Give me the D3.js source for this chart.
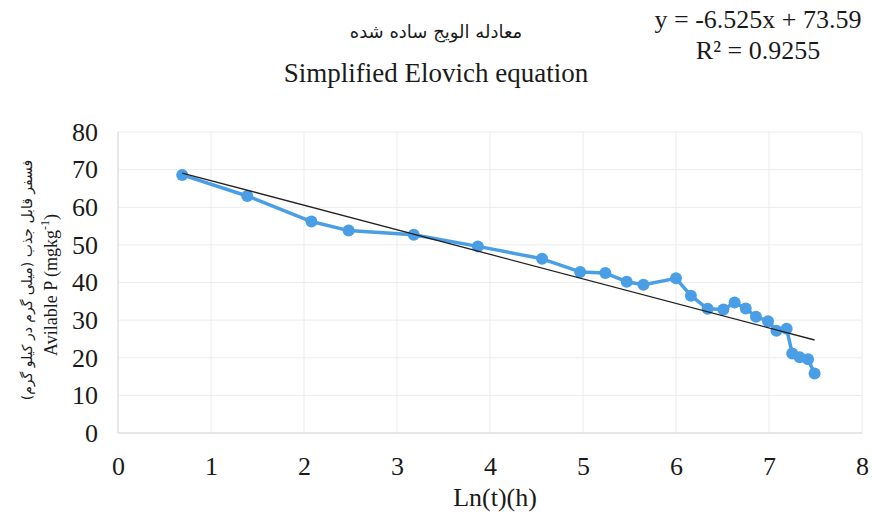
<!DOCTYPE html>
<html>
<head>
<meta charset="utf-8">
<script src="https://cdn.jsdelivr.net/npm/d3@7"></script>
<style>
  html, body { margin: 0; padding: 0; background: #fff; }
  svg { display: block; }
  .serif { font-family: "Liberation Serif", "Times New Roman", serif; fill: #1a1a1a; }
  .fa { font-family: "DejaVu Sans", "Noto Sans", sans-serif; fill: #1a1a1a; }
</style>
</head>
<body>
<svg id="chart" width="872" height="515"></svg>
<script>
// Ln(t) in hours and available phosphorus (mg/kg)
const lnTime = [0.69, 1.39, 2.08, 2.48, 3.18, 3.87, 4.56, 4.97, 5.24, 5.47, 5.65,
                6.00, 6.16, 6.34, 6.51, 6.63, 6.75, 6.86, 6.99, 7.08, 7.19, 7.25, 7.33, 7.42, 7.49];
const availP = [68.6, 63.0, 56.2, 53.8, 52.7, 49.6, 46.3, 42.8, 42.5, 40.2, 39.4,
                41.1, 36.5, 33.0, 32.8, 34.7, 33.1, 30.9, 29.7, 27.2, 27.7, 21.1, 20.1, 19.6, 15.8];

// Linear fit reported for the series
const fitSlope = -6.525;
const fitIntercept = 73.59;
const fitR2 = 0.9255;

const xTicks = [0, 1, 2, 3, 4, 5, 6, 7, 8];
const yTicks = [0, 10, 20, 30, 40, 50, 60, 70, 80];

const svg = d3.select("#chart");
const plot = { left: 118, right: 862, top: 132, bottom: 433 };

const x = d3.scaleLinear().domain([0, 8]).range([plot.left, plot.right]);
const y = d3.scaleLinear().domain([0, 80]).range([plot.bottom, plot.top]);

// Gridlines
svg.append("g").selectAll("line.h").data(yTicks).join("line")
  .attr("x1", plot.left).attr("x2", plot.right)
  .attr("y1", d => y(d)).attr("y2", d => y(d))
  .attr("stroke", "#ececec").attr("stroke-width", 1);
svg.append("g").selectAll("line.v").data(xTicks).join("line")
  .attr("x1", d => x(d)).attr("x2", d => x(d))
  .attr("y1", plot.top).attr("y2", plot.bottom)
  .attr("stroke", "#ececec").attr("stroke-width", 1);

// Axis baselines
svg.append("line").attr("x1", plot.left).attr("x2", plot.right)
  .attr("y1", plot.bottom).attr("y2", plot.bottom).attr("stroke", "#d9d9d9");
svg.append("line").attr("x1", plot.left).attr("x2", plot.left)
  .attr("y1", plot.top).attr("y2", plot.bottom).attr("stroke", "#d9d9d9");

// Axes (labels only, no tick marks)
const xAxis = svg.append("g").attr("transform", `translate(0,${plot.bottom})`)
  .call(d3.axisBottom(x).tickValues(xTicks).tickSize(0).tickPadding(24).tickFormat(d3.format("d")));
const yAxis = svg.append("g").attr("transform", `translate(${plot.left},0)`)
  .call(d3.axisLeft(y).tickValues(yTicks).tickSize(0).tickPadding(20).tickFormat(d3.format("d")));
[xAxis, yAxis].forEach(g => {
  g.select(".domain").remove();
  g.selectAll("text").attr("class", "serif").style("font-size", "26px").attr("fill", "#1a1a1a");
});

// Data series
const color = "#4a9ee6";
const line = d3.line().x((d, i) => x(lnTime[i])).y(d => y(d));
svg.append("path").datum(availP)
  .attr("d", line).attr("fill", "none")
  .attr("stroke", color).attr("stroke-width", 3.5).attr("stroke-linejoin", "round");
svg.append("g").selectAll("circle").data(availP).join("circle")
  .attr("cx", (d, i) => x(lnTime[i])).attr("cy", d => y(d))
  .attr("r", 6).attr("fill", color);

// Trend line over the data range
const xMin = d3.min(lnTime), xMax = d3.max(lnTime);
svg.append("line")
  .attr("x1", x(xMin)).attr("y1", y(fitSlope * xMin + fitIntercept))
  .attr("x2", x(xMax)).attr("y2", y(fitSlope * xMax + fitIntercept))
  .attr("stroke", "#222").attr("stroke-width", 1.3);

// Titles
svg.append("text").attr("class", "fa").attr("x", 436).attr("y", 38)
  .attr("text-anchor", "middle").attr("direction", "rtl")
  .style("font-size", "18px")
  .text("معادله الویج ساده شده");
svg.append("text").attr("class", "serif").attr("x", 436).attr("y", 82)
  .attr("text-anchor", "middle").style("font-size", "27px")
  .text("Simplified Elovich equation");

// Fit equation
svg.append("text").attr("class", "serif").attr("x", 758).attr("y", 28)
  .attr("text-anchor", "middle").style("font-size", "26px")
  .text(`y = ${fitSlope}x + ${fitIntercept}`);
svg.append("text").attr("class", "serif").attr("x", 758).attr("y", 59)
  .attr("text-anchor", "middle").style("font-size", "26px")
  .text(`R² = ${fitR2}`);

// Axis titles
svg.append("text").attr("class", "serif").attr("x", 495).attr("y", 506)
  .attr("text-anchor", "middle").style("font-size", "26px").text("Ln(t)(h)");

const yTitle = svg.append("text").attr("class", "serif")
  .attr("transform", "translate(57,285) rotate(-90)")
  .attr("text-anchor", "middle").style("font-size", "18px");
yTitle.append("tspan").text("Avilable P (mgkg");
yTitle.append("tspan").attr("dy", -8).style("font-size", "12px").text("-1");
yTitle.append("tspan").attr("dy", 8).text(")");

svg.append("text").attr("class", "fa")
  .attr("transform", "translate(32,280) rotate(-90)")
  .attr("text-anchor", "middle").attr("direction", "rtl").style("font-size", "14px")
  .text("فسفر قابل جذب (میلی گرم در کیلو گرم)");
</script>
</body>
</html>
